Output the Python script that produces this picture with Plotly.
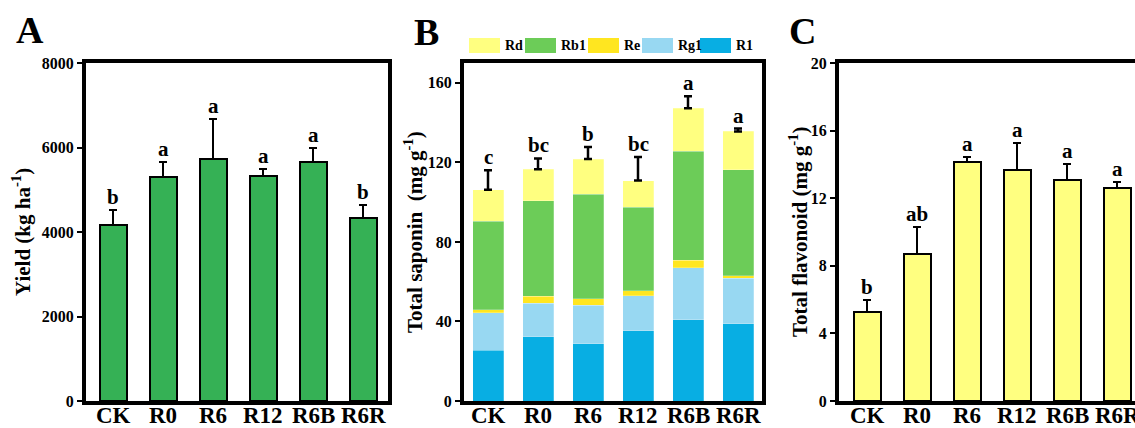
import plotly.graph_objects as go

# ---------------- data ----------------
categories = ["CK", "R0", "R6", "R12", "R6B", "R6R"]

yield_vals = [4166, 5302, 5728, 5325, 5657, 4331]
yield_err = [354, 355, 947, 166, 331, 308]
yield_letters = ["b", "a", "a", "a", "a", "b"]

saponin_names = ["Rd", "Rb1", "Re", "Rg1", "R1"]
R1 = [25.5, 32.4, 28.9, 35.3, 40.8, 38.8]
Rg1 = [18.9, 16.7, 19.2, 17.6, 26.1, 23.0]
Re = [1.5, 3.7, 3.3, 2.6, 3.9, 1.1]
Rb1 = [44.5, 47.9, 52.5, 42.0, 54.9, 53.4]
Rd = [15.8, 15.9, 17.8, 13.4, 21.5, 19.3]
saponin_err = [9.8, 5.4, 6.0, 11.8, 6.1, 1.4]
saponin_letters = ["c", "bc", "b", "bc", "a", "a"]

flav_vals = [5.29, 8.69, 14.12, 13.66, 13.05, 12.60]
flav_err = [0.69, 1.62, 0.33, 1.60, 0.95, 0.35]
flav_letters = ["b", "ab", "a", "a", "a", "a"]

yield_ticks = [0, 2000, 4000, 6000, 8000]
saponin_ticks = [0, 40, 80, 120, 160]
flav_ticks = [0, 4, 8, 12, 16, 20]

# ---------------- style ----------------
W, H = 1135, 428
SERIF = "Liberation Serif"
GREEN_BAR = "#35B155"
YELLOW_BAR = "#FFFF80"
sap_colors = {"Rd": "#FFFF80", "Rb1": "#6CCC58", "Re": "#FFE620",
              "Rg1": "#98D8F2", "R1": "#08AEE3"}
sap_series = {"Rd": Rd, "Rb1": Rb1, "Re": Re, "Rg1": Rg1, "R1": R1}


def px_x(p):
    return p / W


def px_y(p):
    return 1 - p / H


fig = go.Figure()

# Panel A
fig.add_trace(go.Bar(
    x=categories, y=yield_vals, width=0.54,
    marker=dict(color=GREEN_BAR, line=dict(color="black", width=2)),
    error_y=dict(type="data", array=yield_err, arrayminus=[0] * len(yield_err),
                 symmetric=False, color="black", thickness=2, width=4),
    xaxis="x", yaxis="y", showlegend=False))

# Panel B (stack bottom -> top)
for name in ["R1", "Rg1", "Re", "Rb1", "Rd"]:
    fig.add_trace(go.Bar(
        x=categories, y=sap_series[name], name=name, width=0.62,
        marker=dict(color=sap_colors[name], line=dict(color="rgba(255,255,255,0.4)", width=0.6)),
        xaxis="x2", yaxis="y2", showlegend=False))
sap_total = [sum(v) for v in zip(R1, Rg1, Re, Rb1, Rd)]
fig.add_trace(go.Scatter(
    x=categories, y=sap_total, mode="markers", marker=dict(size=1, opacity=0),
    error_y=dict(type="data", array=saponin_err, arrayminus=[0] * len(saponin_err),
                 symmetric=False, color="black", thickness=2.5, width=4),
    xaxis="x2", yaxis="y2", showlegend=False, hoverinfo="skip"))

# Panel C
fig.add_trace(go.Bar(
    x=categories, y=flav_vals, width=0.54,
    marker=dict(color=YELLOW_BAR, line=dict(color="black", width=2)),
    error_y=dict(type="data", array=flav_err, arrayminus=[0] * len(flav_err),
                 symmetric=False, color="black", thickness=2, width=4),
    xaxis="x3", yaxis="y3", showlegend=False))

fig.update_layout(barmode="stack", template="none")

ydom = [px_y(401), px_y(63)]
tickfont_y = dict(family=SERIF, size=16, color="black", weight="bold")


def xax(dom, rng):
    return dict(domain=dom, range=rng, showline=True, linewidth=4, linecolor="black",
                mirror=True, ticks="", showticklabels=False, showgrid=False,
                zeroline=False, type="category", automargin=False)


def yax(anchor, rng, ticks):
    return dict(domain=ydom, range=rng, anchor=anchor, showline=True, linewidth=4,
                linecolor="black", mirror=True, ticks="outside", ticklen=5,
                tickwidth=2, tickcolor="black", tickvals=ticks,
                tickfont=tickfont_y, showgrid=False, zeroline=False,
                automargin=False)


fig.update_layout(
    width=W, height=H, margin=dict(l=0, r=0, t=0, b=0, autoexpand=False),
    paper_bgcolor="white", plot_bgcolor="white", showlegend=False,
    xaxis=dict(xax([px_x(86), px_x(388)], [-0.54, 5.5]), anchor="y"),
    yaxis=yax("x", [0, 8000], yield_ticks),
    xaxis2=dict(xax([px_x(464), px_x(762)], [-0.48, 5.48]), anchor="y2"),
    yaxis2=yax("x2", [0, 170], saponin_ticks),
    xaxis3=dict(xax([px_x(839), 1.0], [-0.56, 5.36]), anchor="y3"),
    yaxis3=yax("x3", [0, 20], flav_ticks),
)

annotations = []

# category labels under each panel
xlabel_font = dict(family=SERIF, size=23, color="black", weight="bold")
for xa in ["x", "x2", "x3"]:
    for c in categories:
        annotations.append(dict(x=c, y=px_y(415.5), xref=xa, yref="paper", text=c,
                                showarrow=False, xanchor="center", yanchor="middle",
                                font=xlabel_font))

letter_font = dict(family=SERIF, size=21, color="black", weight="bold")
for xa, ya, vals, errs, letters in [
        ("x", "y", yield_vals, yield_err, yield_letters),
        ("x2", "y2", sap_total, saponin_err, saponin_letters),
        ("x3", "y3", flav_vals, flav_err, flav_letters)]:
    for c, v, e, t in zip(categories, vals, errs, letters):
        annotations.append(dict(x=c, y=v + e, xref=xa, yref=ya, text=t,
                                showarrow=False, yanchor="bottom", yshift=-1,
                                font=letter_font))

title_font = dict(family=SERIF, size=21, color="black", weight="bold")
for cx, text in [(22, "Yield (kg ha<sup>-1</sup>)"),
                 (414, "Total saponin&nbsp; (mg g<sup>-1</sup>)"),
                 (799, "Total flavonoid (mg g<sup>-1</sup>)")]:
    annotations.append(dict(x=px_x(cx), y=px_y(232), xref="paper", yref="paper",
                            text=text, textangle=-90, showarrow=False,
                            xanchor="center", yanchor="middle", font=title_font))

panel_font = dict(family=SERIF, size=38, color="black", weight="bold")
for cx, cy, t in [(30, 30, "A"), (426, 32, "B"), (802, 31, "C")]:
    annotations.append(dict(x=px_x(cx), y=px_y(cy), xref="paper", yref="paper",
                            text=t, showarrow=False, xanchor="center",
                            yanchor="middle", font=panel_font))

# manual legend for panel B
shapes = []
legend_x0 = [469, 525, 588, 642, 700]
legend_font = dict(family=SERIF, size=14, color="black", weight="bold")
for x0, name in zip(legend_x0, saponin_names):
    shapes.append(dict(type="rect", xref="paper", yref="paper",
                       x0=px_x(x0), x1=px_x(x0 + 31), y0=px_y(53), y1=px_y(38),
                       fillcolor=sap_colors[name], line=dict(width=0)))
    annotations.append(dict(x=px_x(x0 + 34), y=px_y(45.5), xref="paper", yref="paper",
                            text=name, showarrow=False, xanchor="left",
                            yanchor="middle", font=legend_font))

fig.update_layout(annotations=annotations, shapes=shapes)

fig.write_html("out.html", config={"displayModeBar": False},
               post_script="document.body.style.margin='0';document.body.style.overflow='hidden';")
